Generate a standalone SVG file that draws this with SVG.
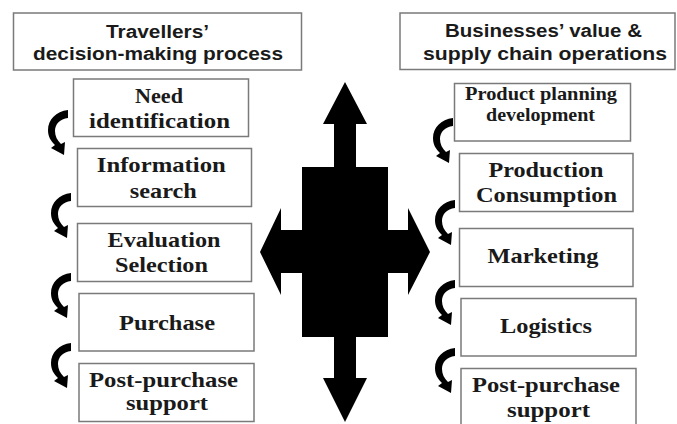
<svg xmlns="http://www.w3.org/2000/svg" width="677" height="424" viewBox="0 0 677 424">
  <style>
    .box { fill: #ffffff; stroke: #7a7a7a; stroke-width: 1.5; }
    .title { font-family: "Liberation Sans", Arial, sans-serif; font-weight: bold; font-size: 18px; fill: #1a1a1a; text-anchor: middle; }
    .step { font-family: "Liberation Serif", "Times New Roman", serif; font-weight: bold; font-size: 21px; fill: #1a1a1a; text-anchor: middle; }
    .small { font-size: 19px; }
    .curl { fill: #000000; }
  </style>
  <defs>
    <!-- curved step arrow, anchored at the top-right end of its stroke -->
    <path id="curl" d="M 0 0 C -12 1, -20 10, -20 20 C -20 27, -17 31, -13 35 L -17 38 L -4 45 L -3 32 L -7 34 C -11 30, -13 26, -13 21 C -13 14, -8 9, 0 8 Z"/>
  </defs>

  <rect width="677" height="424" fill="#ffffff"/>

  <!-- column headers -->
  <g id="travellers-header">
    <rect class="box" x="13.5" y="13" width="288" height="57"/>
    <text class="title" x="157.5" y="38" textLength="103" lengthAdjust="spacingAndGlyphs">Travellers’</text>
    <text class="title" x="158" y="60" textLength="250" lengthAdjust="spacingAndGlyphs">decision-making process</text>
  </g>
  <g id="business-header">
    <rect class="box" x="400" y="13" width="275" height="56.5"/>
    <text class="title" x="543.5" y="37" textLength="197" lengthAdjust="spacingAndGlyphs">Businesses’ value &amp;</text>
    <text class="title" x="545" y="60" textLength="244" lengthAdjust="spacingAndGlyphs">supply chain operations</text>
  </g>

  <!-- travellers' steps -->
  <g id="need-identification">
    <rect class="box" x="73.5" y="79" width="175" height="57.5"/>
    <text class="step" x="159" y="103" textLength="48" lengthAdjust="spacingAndGlyphs">Need</text>
    <text class="step" x="159.5" y="128" textLength="141" lengthAdjust="spacingAndGlyphs">identification</text>
  </g>
  <g id="information-search">
    <rect class="box" x="77.5" y="148.5" width="174" height="58"/>
    <text class="step" x="161.3" y="172" textLength="129" lengthAdjust="spacingAndGlyphs">Information</text>
    <text class="step" x="163.3" y="198" textLength="67" lengthAdjust="spacingAndGlyphs">search</text>
  </g>
  <g id="evaluation-selection">
    <rect class="box" x="77.5" y="223.5" width="174" height="58"/>
    <text class="step" x="164" y="247" textLength="113" lengthAdjust="spacingAndGlyphs">Evaluation</text>
    <text class="step" x="161.5" y="271.5" textLength="93" lengthAdjust="spacingAndGlyphs">Selection</text>
  </g>
  <g id="purchase">
    <rect class="box" x="79" y="293.5" width="175" height="57.5"/>
    <text class="step" x="167" y="330" textLength="96" lengthAdjust="spacingAndGlyphs">Purchase</text>
  </g>
  <g id="travellers-post-purchase">
    <rect class="box" x="79" y="363.5" width="175" height="58"/>
    <text class="step" x="163.5" y="386.5" textLength="149" lengthAdjust="spacingAndGlyphs">Post-purchase</text>
    <text class="step" x="167" y="410" textLength="82" lengthAdjust="spacingAndGlyphs">support</text>
  </g>

  <!-- business operations -->
  <g id="product-planning">
    <rect class="box" x="454.5" y="83.5" width="176" height="57.5"/>
    <text class="step small" x="541" y="100" textLength="152" lengthAdjust="spacingAndGlyphs">Product planning</text>
    <text class="step small" x="540.5" y="121" textLength="109" lengthAdjust="spacingAndGlyphs">development</text>
  </g>
  <g id="production-consumption">
    <rect class="box" x="459.5" y="153.5" width="173.5" height="58"/>
    <text class="step" x="546" y="176.5" textLength="115" lengthAdjust="spacingAndGlyphs">Production</text>
    <text class="step" x="546.5" y="202" textLength="141" lengthAdjust="spacingAndGlyphs">Consumption</text>
  </g>
  <g id="marketing">
    <rect class="box" x="459.5" y="228.5" width="173.5" height="58"/>
    <text class="step" x="543" y="263" textLength="111" lengthAdjust="spacingAndGlyphs">Marketing</text>
  </g>
  <g id="logistics">
    <rect class="box" x="461" y="298.5" width="175" height="57.5"/>
    <text class="step" x="546" y="333" textLength="92" lengthAdjust="spacingAndGlyphs">Logistics</text>
  </g>
  <g id="business-post-purchase">
    <rect class="box" x="461" y="368.5" width="175" height="60"/>
    <text class="step" x="546" y="391.5" textLength="148" lengthAdjust="spacingAndGlyphs">Post-purchase</text>
    <text class="step" x="548.5" y="416.5" textLength="83" lengthAdjust="spacingAndGlyphs">support</text>
  </g>

  <!-- central four-way arrow -->
  <g id="four-way-arrow">
    <polygon fill="#000000" points="345,82 367,124 356,124 356,167 388,167 388,230 408,230 408,208 430,252 408,295 408,273 388,273 388,337 356,337 356,378 367,378 345,422 323,378 334,378 334,337 302,337 302,273 281,273 281,295 260,252 281,208 281,230 302,230 302,167 334,167 334,124 323,124"/>
  </g>

  <!-- step-to-step connectors -->
  <g id="connectors" class="curl">
    <use href="#curl" transform="translate(68,110)"/>
    <use href="#curl" transform="translate(71,193)"/>
    <use href="#curl" transform="translate(71,273)"/>
    <use href="#curl" transform="translate(71,343)"/>
    <use href="#curl" transform="translate(453,118)"/>
    <use href="#curl" transform="translate(455,200)"/>
    <use href="#curl" transform="translate(455,280)"/>
    <use href="#curl" transform="translate(455,348)"/>
  </g>
</svg>
